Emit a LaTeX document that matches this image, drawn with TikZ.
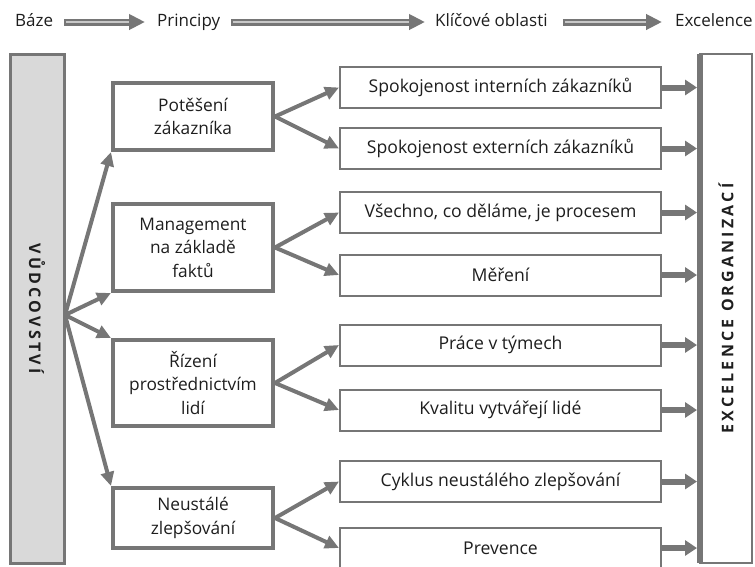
\documentclass[tikz,border=0pt]{standalone}
\usepackage{fontspec}
\setmainfont{Open Sans}
\newfontfamily\spacedfont[LetterSpace=20]{Open Sans}
\usetikzlibrary{arrows.meta}
\definecolor{gr}{HTML}{767676}
\definecolor{lgr}{HTML}{D9D9D9}
\definecolor{txt}{HTML}{1E1E1E}
\definecolor{stripe}{HTML}{C8C8C8}
\begin{document}
\begin{tikzpicture}[x=1pt,y=-1pt,
  every node/.style={text=txt},
  hdr/.style={font=\fontsize{17}{20}\selectfont, inner sep=0pt, anchor=base west},
  harr/.style={draw=gr, line width=7pt, -{Triangle[length=16pt,width=15pt]}},
  hstripe/.style={draw=stripe, line width=1.5pt},
  midbox/.style={draw=gr, line width=4pt, fill=white, minimum width=160pt, align=center,
    font=\fontsize{17.3}{23.5}\selectfont, inner sep=0pt},
  areabox/.style={draw=gr, line width=2pt, fill=white, minimum width=321pt, minimum height=41pt,
    font=\fontsize{17.6}{20}\selectfont, inner sep=0pt},
  vtext/.style={font=\spacedfont\bfseries\fontsize{16}{18}\selectfont, inner sep=0pt},
  larr/.style={draw=gr, line width=4pt, -{Triangle[length=14pt,width=13pt]}},
  rarr/.style={draw=gr, line width=6pt, -{Triangle[length=12pt,width=15pt]}, shorten >=3pt}
]
\useasboundingbox (0,0) rectangle (755,566);

% header
\node[hdr] (h1) at (15,26) {Báze};
\node[hdr] (h2) at (157,26) {Principy};
\node[hdr] (h3) at (435,26) {Klíčové oblasti};
\node[hdr] (h4) at (675,26) {Excelence};
\coordinate (a1s) at ([shift={(11pt,4pt)}]h1.base east);
\coordinate (a1e) at ([shift={(-12pt,4pt)}]h2.base west);
\coordinate (a2s) at ([shift={(11pt,4pt)}]h2.base east);
\coordinate (a2e) at ([shift={(-10pt,4pt)}]h3.base west);
\coordinate (a3s) at ([shift={(15pt,4pt)}]h3.base east);
\coordinate (a3e) at ([shift={(-13pt,4pt)}]h4.base west);
\foreach \s/\e in {a1s/a1e,a2s/a2e,a3s/a3e}{
  \draw[harr] (\s) -- (\e);
  \draw[hstripe] ([xshift=2pt]\s) -- ([xshift=-16pt]\e);
}

% left and right tall boxes
\node[draw=gr, line width=3pt, fill=lgr, minimum width=54pt, minimum height=509pt, inner sep=0pt] (L) at (37,308.5) {};
\node[vtext, rotate=-90] (Lt) at (L.center) {VŮDCOVSTVÍ};
\node[draw=gr, line width=2.5pt, minimum width=52pt, minimum height=509pt, inner sep=0pt, outer sep=0pt] (E) at (726,308.5) {};
\draw[gr, line width=6pt] (E.north west) -- (E.south west);
\node[vtext, rotate=90] (Et) at (E.center) {EXCELENCE ORGANIZACÍ};

% principles
\node[midbox, minimum height=67pt] (M1) at (193,116.5) {Potěšení\\zákazníka};
\node[midbox, minimum height=87pt] (M2) at (193,247.5) {Management\\na základě\\faktů};
\node[midbox, minimum height=86pt] (M3) at (193,383) {Řízení\\prostřednictvím\\lidí};
\node[midbox, minimum height=60pt] (M4) at (193,518) {Neustálé\\zlepšování};

% key areas
\node[areabox] (R1) at (500.5,87.5) {Spokojenost interních zákazníků};
\node[areabox] (R2) at (500.5,148.5) {Spokojenost externích zákazníků};
\node[areabox] (R3) at (500.5,212.5) {Všechno, co děláme, je procesem};
\node[areabox] (R4) at (500.5,275) {Měření};
\node[areabox] (R5) at (500.5,345) {Práce v týmech};
\node[areabox] (R6) at (500.5,410) {Kvalitu vytvářejí lidé};
\node[areabox] (R7) at (500.5,481.5) {Cyklus neustálého zlepšování};
\node[areabox] (R8) at (500.5,548) {Prevence};

% leadership arrows
\coordinate (O) at (65,315);
\draw[larr] (O) -- (M1.south west);
\draw[larr] (O) -- (M2.south west);
\draw[larr] (O) -- (M3.north west);
\draw[larr] (O) -- (M4.north west);

% principle to area arrows
\draw[larr] (M1.east) -- (R1.west);
\draw[larr] (M1.east) -- (R2.west);
\draw[larr] (M2.east) -- (R3.west);
\draw[larr] (M2.east) -- (R4.west);
\draw[larr] (M3.east) -- (R5.west);
\draw[larr] (M3.east) -- (R6.west);
\draw[larr] (M4.east) -- (R7.west);
\draw[larr] (M4.east) -- (R8.west);

% area to excellence arrows
\foreach \r in {R1,R2,R3,R4,R5,R6,R7,R8}{
  \draw[rarr] (\r.east) -- (\r.east -| E.west);
}
\end{tikzpicture}
\end{document}
